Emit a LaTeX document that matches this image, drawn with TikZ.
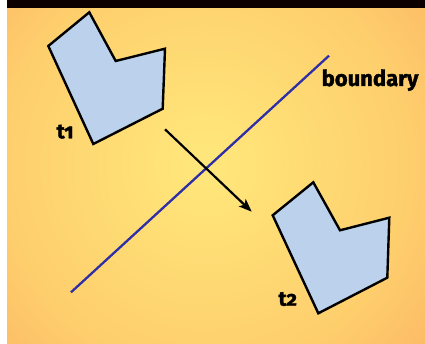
\documentclass[tikz,border=0pt]{standalone}
\usepackage{fontspec}
\setmainfont{Fira Sans}[Numbers=OldStyle]
\newfontfamily\lblfont{Fira Sans}[Numbers=OldStyle, BoldFeatures={FakeBold=1.6}]
\usetikzlibrary{arrows.meta}
\definecolor{bgY}{HTML}{FFE67A}
\definecolor{bgA}{HTML}{FECF6D}
\definecolor{bgM}{HTML}{FCB865}
\definecolor{bgO}{HTML}{F8A866}
\definecolor{bgE}{HTML}{F7A566}
\definecolor{polyfill}{HTML}{BBD1EC}
\definecolor{bline}{HTML}{2E2EA8}
% shading defined on TikZ's 100bp box; circle of radius 400pt maps 50bp -> 400pt
\pgfdeclareradialshading{bgshade}{\pgfpoint{0bp}{0bp}}{color(0bp)=(bgY); color(1bp)=(bgY); color(12.5bp)=(bgA); color(18.75bp)=(bgM); color(25bp)=(bgO); color(50bp)=(bgE)}
\tikzset{
  poly/.style={draw=black, fill=polyfill, line width=2.4pt, line join=miter},
  lbl/.style={font=\fontsize{20.5}{24}\lblfont\bfseries, inner sep=0pt, anchor=base west},
}
\begin{document}
\begin{tikzpicture}[x=1pt,y=-1pt]
\useasboundingbox (0,0) rectangle (425,344);
\fill[white] (0,0) rectangle (425,344);
\begin{scope}
  \clip (7,0) rectangle (425,344);
  \shade[shading=bgshade] (205,165) circle[radius=400];
\end{scope}
\fill[black!95!red] (7,0) rectangle (425,8);
% boundary line
\coordinate (bl1) at (71,292.3);
\coordinate (bl2) at (329,55.7);
\draw[bline, line width=2.3pt] (bl1) -- (bl2);
% polygons
\draw[poly] (89.3,12.3) -- (48.3,46) -- (93.3,144) -- (162.7,108.7) -- (165,48.7) -- (115.7,61) -- cycle;
\draw[poly] (313.3,182.3) -- (272.7,215.3) -- (318.3,313.3) -- (387.3,277.7) -- (389.3,217.7) -- (340,230.3) -- cycle;
% arrow
\coordinate (a1) at (165,129.3);
\coordinate (a2) at (251.7,211.7);
\draw[line width=2.2pt, -{Stealth[length=13pt,width=10pt,inset=3pt]}] (a1) -- (a2);
% labels
\node[lbl, font=\fontsize{22}{26}\lblfont\bfseries] (lb) at (321.5,86) {boundary};
\node[lbl] (lt1) at (56.5,138.3) {t1};
\node[lbl] (lt2) at (278.3,305.7) {t2};
\end{tikzpicture}
\end{document}
